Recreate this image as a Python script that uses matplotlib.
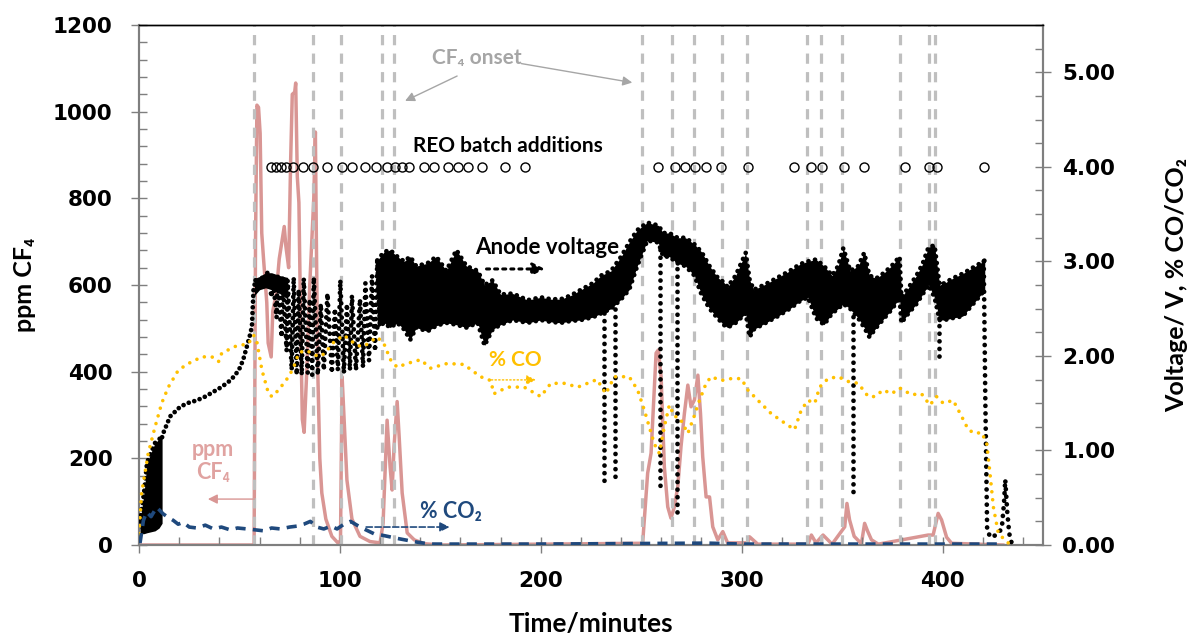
import numpy as np
import matplotlib.pyplot as plt
from matplotlib.ticker import MultipleLocator, FormatStrFormatter

# --- data (time in minutes) ---
# CF4 concentration (ppm, left axis)
cf4_t = [0, 57.3, 58.0, 58.7, 59.5, 60.3, 61.1, 62.0, 63.6, 64.3, 65.8, 66.6, 68.3, 69.8,
         72.3, 73.1, 74.5, 75.5, 76.3, 77.5, 78.0, 78.8, 79.6, 80.5, 81.3, 82.2, 83.5, 85.0,
         87.0, 87.8, 88.3, 89.0, 90.0, 91.0, 93.0, 96.0, 99.0, 100.3, 101.1, 102.0, 103.5,
         106.0, 110.0, 115.0, 120.0, 121.5, 123.5, 125.0, 126.0, 127.0, 128.5, 129.5, 131.0,
         133.5, 137.0, 142.0, 150.0, 250.7, 253.2, 254.9, 257.4, 258.5, 259.9, 261.5, 263.2,
         264.8, 266.5, 268.2, 269.8, 271.5, 273.2, 274.8, 276.5, 278.2, 279.5, 280.6, 282.3,
         284.0, 285.6, 288.1, 290.6, 293.0, 303.0, 303.9, 308.0, 333.0, 334.7, 337.0, 340.5,
         345.0, 351.3, 352.4, 353.7, 356.0, 359.6, 361.2, 362.6, 364.6, 368.0, 392.8, 395.3,
         397.8, 399.5, 402.0, 404.5, 430.0]
cf4_ppm = [0, 0, 700, 1015, 1010, 950, 720, 660, 560, 466, 434, 540, 580, 660,
           735, 690, 640, 890, 1040, 1045, 1066, 850, 790, 500, 290, 260, 400, 600,
           800, 953, 700, 400, 200, 120, 60, 20, 5, 10, 388, 300, 150,
           60, 20, 8, 5, 50, 288, 180, 127, 230, 331, 250, 120,
           28, 12, 3, 0, 4, 166, 212, 443, 450, 388, 181, 88,
           62, 88, 135, 227, 304, 369, 319, 335, 392, 304, 204, 111,
           111, 42, 12, 31, 5, 5, 19, 2, 2, 23, 5, 23,
           2, 42, 96, 58, 20, 3, 50, 33, 12, 2, 23, 23,
           73, 58, 18, 4, 0]

# % CO (right axis)
co_t = [0, 1.3, 4.6, 8, 11.3, 14.6, 19.6, 24.6, 31.3, 36.3, 39.6, 41.2, 47.9, 54.5, 57, 58.5,
        61.2, 64.5, 66.2, 69.5, 74.5, 77, 79.5, 82.8, 86.1, 89.5, 92.8, 96.1, 101.9, 108.6,
        111.9, 118.5, 121.9, 125.2, 128.5, 133.5, 140.2, 145.1, 153.4, 161.7, 170, 175, 176.7,
        183.4, 191.7, 200, 205, 211.7, 218.4, 228, 232.4, 236.6, 244, 248.2, 251.5, 254,
        256.5, 259, 261.5, 264, 266.5, 269, 271.5, 273.2, 276.5, 279, 282.3, 284.8, 289.8,
        294.8, 299.8, 303.1, 308.1, 314.7, 321.4, 326.3, 329.7, 333, 336.4, 338.8, 343, 348,
        353, 358, 363, 366.4, 370.4, 374.6, 378.7, 384.5, 389.5, 393.7, 397, 400.3, 405.3,
        409.5, 412.8, 416.1, 419.5, 422, 423.6, 425.3, 427.8, 430.3, 432.8]
co_pct = [0.12, 0.55, 0.97, 1.25, 1.50, 1.67, 1.85, 1.92, 1.99, 1.99, 1.94, 2.03, 2.10, 2.13, 2.22, 2.17,
          1.85, 1.60, 1.57, 1.64, 1.78, 1.88, 2.03, 2.06, 2.03, 1.99, 2.03, 2.13, 2.22, 2.11,
          2.10, 2.20, 2.13, 1.96, 1.88, 1.92, 1.96, 1.87, 1.92, 1.91, 1.78, 1.74, 1.60,
          1.67, 1.67, 1.57, 1.71, 1.71, 1.67, 1.75, 1.60, 1.78, 1.78, 1.64, 1.43, 1.25,
          1.07, 0.97, 1.25, 1.48, 1.36, 1.35, 1.25, 1.18, 1.37, 1.53, 1.71, 1.78, 1.74,
          1.76, 1.76, 1.64, 1.53, 1.39, 1.29, 1.22, 1.43, 1.53, 1.50, 1.67, 1.76, 1.78,
          1.73, 1.71, 1.57, 1.57, 1.64, 1.60, 1.66, 1.59, 1.60, 1.48, 1.57, 1.50, 1.53,
          1.36, 1.22, 1.18, 1.19, 1.07, 0.76, 0.40, 0.12, 0.07, 0.02]

# % CO2 (right axis)
co2_t = [0.5, 2.2, 3.8, 6, 8.8, 12, 14, 17.1, 19.5, 22, 25, 28.8, 33, 37.1, 41, 45.4, 49, 53.8,
         58, 62.1, 66, 70.4, 75, 78.7, 82, 85.3, 88.5, 92, 95.5, 98.6, 102, 105.3, 108.5, 112,
         116.9, 121.9, 128.5, 138.5, 145, 200, 283, 300, 430]
co2_pct = [0.02, 0.26, 0.35, 0.30, 0.40, 0.33, 0.30, 0.26, 0.22, 0.24, 0.19, 0.18, 0.21, 0.17, 0.19, 0.16, 0.18, 0.17,
           0.16, 0.15, 0.18, 0.17, 0.19, 0.20, 0.22, 0.25, 0.19, 0.17, 0.20, 0.17, 0.22, 0.25, 0.21, 0.17,
           0.12, 0.10, 0.07, 0.03, 0.01, 0.01, 0.02, 0.01, 0.01]

# anode voltage (right axis): noisy start band, smooth rise, oscillating zone, dense band, anode effects
v_start_t = [0.5, 2.5, 4, 6, 8, 10, 11.5]
v_start_hi = [0.25, 0.55, 0.87, 0.98, 1.08, 1.12, 1.14]
v_start_lo = [0.12, 0.12, 0.13, 0.14, 0.15, 0.18, 0.23]

v_rise_t = [11.5, 12, 15.5, 20.4, 24, 28.8, 33, 37, 41, 45.4, 48, 50.4, 52, 53.7, 55, 56.2, 57.0, 58.0]
v_rise = [1.14, 1.18, 1.36, 1.46, 1.50, 1.53, 1.57, 1.62, 1.67, 1.74, 1.80, 1.88, 1.97, 2.10, 2.20, 2.31, 2.70, 2.80]

v_plat_t = [57.5, 60, 63, 66, 70, 74]
v_plat_hi = [2.82, 2.84, 2.88, 2.88, 2.85, 2.83]
v_plat_lo = [2.64, 2.70, 2.72, 2.70, 2.66, 2.60]

v_osc_t = [58, 61, 64, 66, 66.5, 68.5, 69, 71, 71.5, 73.5, 74, 76, 77, 78.5, 79.5, 81, 82, 84, 85,
           86.2, 87, 89, 90.5, 92, 93.8, 96, 97.5, 99, 100.2, 102, 103.5, 105, 106, 108, 110, 111.5,
           112.7, 114.5, 116, 117.5, 118.6, 120]
v_osc = [2.80, 2.82, 2.88, 2.62, 2.86, 2.40, 2.85, 2.20, 2.83, 2.05, 2.80, 1.85, 2.83, 1.80, 2.70, 1.80,
         2.82, 1.82, 2.60, 1.80, 2.83, 1.80, 2.55, 1.85, 2.66, 1.82, 2.50, 1.85, 2.80, 1.82, 2.55, 1.85,
         2.64, 1.85, 2.60, 1.88, 2.77, 1.95, 2.85, 2.05, 3.01, 2.30]

v_band_t = [118.6, 122, 125, 128.6, 132, 135, 138, 143.6, 148, 153, 158, 163, 168.6, 172, 176, 180,
            186, 193.5, 200, 205, 210, 215, 220, 226, 230, 235, 240, 244, 248, 253, 258.5, 261, 264,
            268, 272, 276.5, 280, 284, 288, 291, 293, 297, 302, 304, 306, 312, 318, 324, 329, 333,
            337, 341, 345, 348, 350.6, 354, 358, 361, 363.6, 367, 371, 375, 378.6, 379.5, 383, 387,
            390, 393, 396, 398.5, 401, 405, 410, 414, 418, 421]
v_band_hi = [3.01, 3.10, 3.12, 3.05, 3.00, 3.05, 2.95, 2.98, 3.05, 2.90, 3.12, 2.95, 2.90, 2.75, 2.80, 2.65,
             2.66, 2.59, 2.62, 2.60, 2.60, 2.64, 2.70, 2.77, 2.85, 2.90, 3.05, 3.20, 3.33, 3.41, 3.38, 3.30, 3.30,
             3.25, 3.25, 3.18, 3.10, 2.95, 2.83, 2.78, 2.73, 2.85, 3.09, 2.80, 2.70, 2.76, 2.83, 2.90, 2.97, 3.00,
             3.02, 2.95, 2.85, 2.95, 3.14, 2.90, 2.95, 3.09, 2.85, 2.82, 2.88, 2.96, 3.05, 2.62, 2.72, 2.85,
             2.97, 3.15, 3.17, 2.75, 2.77, 2.82, 2.87, 2.92, 2.97, 3.01]
v_band_lo = [2.30, 2.35, 2.30, 2.35, 2.28, 2.17, 2.30, 2.26, 2.32, 2.35, 2.33, 2.30, 2.35, 2.11, 2.28, 2.33,
             2.38, 2.35, 2.38, 2.36, 2.35, 2.37, 2.38, 2.41, 2.45, 2.50, 2.60, 2.70, 2.95, 3.22, 3.20, 3.05, 3.05,
             2.98, 2.95, 2.85, 2.65, 2.50, 2.40, 2.33, 2.30, 2.35, 2.45, 2.20, 2.28, 2.35, 2.42, 2.50, 2.58, 2.62,
             2.40, 2.33, 2.45, 2.50, 2.55, 2.50, 2.40, 2.30, 2.20, 2.30, 2.40, 2.50, 2.62, 2.35, 2.45, 2.55,
             2.65, 2.75, 2.62, 2.38, 2.38, 2.40, 2.42, 2.52, 2.62, 2.70]

dip_t = [231.4, 236.9, 259.4, 267.8, 355.6, 398.0]
dip_top = [2.45, 2.50, 3.20, 3.00, 2.50, 2.40]
dip_bottom = [0.65, 0.69, 0.58, 0.34, 0.55, 1.99]

v_end_t = [420.5, 421.3, 422.2, 424, 426, 428, 429.5, 430.6, 431.2, 432.2, 433.2, 434.4]
v_end = [3.00, 1.50, 0.15, 0.08, 0.10, 0.13, 0.18, 0.45, 0.69, 0.35, 0.12, 0.02]

# REO batch additions (open circles at 4.00 V)
reo_t = [65.7, 68.2, 70.7, 73.2, 76.5, 81.6, 86.6, 93.6, 100.9, 105.9, 112.7, 117.9, 123.5, 127.3,
         131.0, 134.5, 141.8, 146.8, 153.7, 158.7, 163.7, 170.6, 182.2, 192.1, 258.2, 267.0, 272.0,
         277.0, 282.0, 289.8, 303.2, 325.8, 334.3, 340.0, 351.1, 361.1, 381.2, 393.2, 397.2, 420.6]
reo_level = 4.0

# CF4 onset times (grey dashed lines)
onset_t = [57.4, 86.8, 100.7, 121.2, 126.7, 250.3, 265.3, 276.2, 290.1, 302.6, 332.3, 339.7,
           350.1, 378.7, 393.2, 396.2]

# --- figure ---
pink = '#D99694'
gold = '#FFC000'
navy = '#1F497D'
grey = '#BFBFBF'
lab_font = ['Lato', 'DejaVu Sans']

fig = plt.figure(figsize=(11.87, 6.44), dpi=100)
ax = fig.add_axes([0.1171, 0.1537, 0.7616, 0.8075])
ax2 = ax.twinx()

ax.plot(cf4_t, cf4_ppm, color=pink, lw=2.5, zorder=1)
for t in onset_t:
    ax.axvline(t, color=grey, lw=2.3, ls=(0, (3.2, 2.6)), zorder=2)

dots = dict(color='k', lw=3.4, dash_capstyle='round', solid_capstyle='round')
ax2.fill_between(v_start_t, v_start_lo, v_start_hi, color='k', lw=0, zorder=3)
ax2.plot(v_start_t, v_start_hi, ls=(0, (0.01, 1.3)), **dots, zorder=3)
ax2.plot(v_rise_t, v_rise, ls=(0, (0.01, 1.2)), **dots, zorder=3)
ax2.fill_between(v_plat_t, v_plat_lo, v_plat_hi, color='k', lw=0, zorder=3)
ax2.plot(v_osc_t, v_osc, ls=(0, (0.01, 1.5)), **dots, zorder=3)
ax2.fill_between(v_band_t, v_band_lo, v_band_hi, color='k', lw=0, zorder=3)
ax2.plot(v_band_t, v_band_hi, ls=(0, (0.01, 1.4)), **dots, zorder=3)
ax2.plot(v_band_t, v_band_lo, ls=(0, (0.01, 1.4)), **dots, zorder=3)
for t, a, b in zip(dip_t, dip_top, dip_bottom):
    ax2.plot([t, t], [a, b], ls=(0, (0.01, 1.6)), **dots, zorder=3)
ax2.plot(v_end_t, v_end, ls=(0, (0.01, 1.6)), **dots, zorder=3)

ax2.plot(co_t, co_pct, color=gold, lw=2.6, ls=(0, (0.01, 2.2)), dash_capstyle='round', zorder=4)
ax2.plot(co2_t, co2_pct, color=navy, lw=2.6, ls=(0, (2.8, 2.0)), zorder=5)
ax2.plot(reo_t, [reo_level] * len(reo_t), 'o', mfc='none', mec='k', ms=6.5, mew=1.0, zorder=6)

# --- axes ---
ax.set_xlim(0, 450)
ax.set_ylim(0, 1200)
ax2.set_ylim(0, 5.5)
ax.xaxis.set_major_locator(MultipleLocator(100))
ax.xaxis.set_minor_locator(MultipleLocator(20))
ax.yaxis.set_major_locator(MultipleLocator(200))
ax.yaxis.set_minor_locator(MultipleLocator(40))
ax2.yaxis.set_major_locator(MultipleLocator(1))
ax2.yaxis.set_minor_locator(MultipleLocator(0.25))
ax2.yaxis.set_major_formatter(FormatStrFormatter('%.2f'))

for a in (ax, ax2):
    a.tick_params(which='major', direction='inout', length=12, width=1, color='#7F7F7F',
                  labelsize=15.5)
    a.tick_params(which='minor', direction='in', length=6, width=1, color='#7F7F7F')
    for s in a.spines.values():
        s.set_color('#7F7F7F')
        s.set_linewidth(1.5)
    a.spines['top'].set_color('k')
    a.spines['top'].set_linewidth(1.0)
for lab in ax.get_xticklabels() + ax.get_yticklabels() + ax2.get_yticklabels():
    lab.set_fontweight('bold')
ax.tick_params(axis='x', pad=13)
ax.tick_params(axis='y', pad=13)
ax2.tick_params(axis='y', pad=8)

ax.set_xlabel('Time/minutes', family=lab_font, fontweight='bold', fontsize=19, labelpad=15)
ax.set_ylabel('ppm CF₄', family=lab_font, fontweight='bold', fontsize=18, labelpad=12)
ax2.set_ylabel('Voltage/ V, % CO/CO₂', family=lab_font, fontweight='bold', fontsize=18, labelpad=36)

# --- annotations (placed in left-axis data coords) ---
tr = ax.transData
ax2.text(168, 1124, 'CF₄ onset', transform=tr, color='#A6A6A6', family=lab_font,
         fontweight='bold', fontsize=15, ha='center', va='center')
arrow_grey = dict(arrowstyle='-|>', color='#A6A6A6', lw=1.0, mutation_scale=14)
ax2.annotate('', xy=(131.2, 1022), xytext=(159.6, 1085), xycoords=tr, textcoords=tr, arrowprops=arrow_grey)
ax2.annotate('', xy=(246.9, 1066), xytext=(189.0, 1112), xycoords=tr, textcoords=tr, arrowprops=arrow_grey)

ax2.text(183.8, 921, 'REO batch additions', transform=tr, color='k', family=lab_font,
         fontweight='bold', fontsize=15, ha='center', va='center')

ax2.text(203.2, 686, 'Anode voltage', transform=tr, color='k', family=lab_font,
         fontweight='bold', fontsize=16, ha='center', va='center')
ax2.annotate('', xy=(203.5, 637), xytext=(171.6, 637), xycoords=tr, textcoords=tr,
             arrowprops=dict(arrowstyle='-|>', color='k', lw=2.2, ls=':', mutation_scale=18))

ax2.text(187.5, 427, '% CO', transform=tr, color=gold, family=lab_font,
         fontweight='bold', fontsize=15, ha='center', va='center')
ax2.annotate('', xy=(199, 381), xytext=(174, 381), xycoords=tr, textcoords=tr,
             arrowprops=dict(arrowstyle='-|>', color=gold, lw=1.0, ls=':', mutation_scale=14))

ax2.text(36.9, 194, 'ppm\nCF₄', transform=tr, color='#E0A3A1', family=lab_font,
         fontweight='bold', fontsize=15.5, ha='center', va='center', linespacing=1.1)
ax2.annotate('', xy=(32.9, 106), xytext=(58.9, 106), xycoords=tr, textcoords=tr,
             arrowprops=dict(arrowstyle='-|>', color=pink, lw=1.0, mutation_scale=14))

ax2.text(155.1, 78, '% CO₂', transform=tr, color=navy, family=lab_font,
         fontweight='bold', fontsize=15.5, ha='center', va='center')
ax2.annotate('', xy=(156, 41.5), xytext=(111.7, 41.5), xycoords=tr, textcoords=tr,
             arrowprops=dict(arrowstyle='-|>', color=navy, lw=1.2, ls='--', mutation_scale=14))

fig.savefig('out.png', dpi=100)
